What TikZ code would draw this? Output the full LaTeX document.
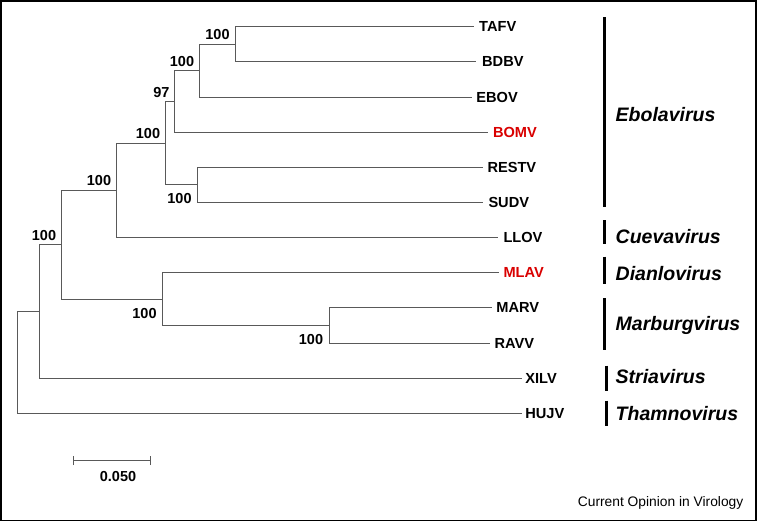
\documentclass[tikz,border=0pt]{standalone}
\usepackage{fontspec}
\setmainfont{Liberation Sans}
\begin{document}
\begin{tikzpicture}[x=1pt,y=-1pt,
  branch/.style={draw=black!65,line width=0.9pt},
  tiplab/.style={anchor=west,inner sep=0pt,font=\fontsize{14.6}{14.6}\selectfont\bfseries},
  redlab/.style={tiplab,text=red!85!black},
  boot/.style={inner sep=0pt,font=\fontsize{14.5}{14.5}\selectfont\bfseries},
  genus/.style={anchor=west,inner sep=0pt,font=\fontsize{19.5}{19.5}\selectfont\bfseries\itshape},
  cladebar/.style={draw=black,line width=3pt}]
\useasboundingbox (0,0) rectangle (758,522);
\draw[line width=1.6pt] (0.8,0.8) rectangle (756,520.5);
% tips (line ends)
\coordinate (tTAFV) at (474,26.7);
\coordinate (tBDBV) at (476,61.85);
\coordinate (tEBOV) at (471.7,97);
\coordinate (tBOMV) at (488.3,132.15);
\coordinate (tRESTV) at (483.3,167.3);
\coordinate (tSUDV) at (483.3,202.45);
\coordinate (tLLOV) at (498.3,237.6);
\coordinate (tMLAV) at (499.3,272.75);
\coordinate (tMARV) at (491.7,307.9);
\coordinate (tRAVV) at (490,343.05);
\coordinate (tXILV) at (521.7,378.2);
\coordinate (tHUJV) at (521.7,413.35);
% internal nodes
\coordinate (nA) at (235.7,44.28);
\coordinate (nB) at (199.3,70.64);
\coordinate (nC) at (174.7,101.4);
\coordinate (nE) at (197.7,184.9);
\coordinate (nD) at (165.7,143.15);
\coordinate (nF) at (116.3,190.4);
\coordinate (nK) at (329.3,325.5);
\coordinate (nJ) at (162.3,299.1);
\coordinate (nG) at (61.7,244.75);
\coordinate (nH) at (39.7,311.5);
\coordinate (nI) at (17.3,362.4);
% branches
\draw[branch] (nA) |- (tTAFV);
\draw[branch] (nA) |- (tBDBV);
\draw[branch] (nB) |- (nA);
\draw[branch] (nB) |- (tEBOV);
\draw[branch] (nC) |- (nB);
\draw[branch] (nC) |- (tBOMV);
\draw[branch] (nE) |- (tRESTV);
\draw[branch] (nE) |- (tSUDV);
\draw[branch] (nD) |- (nC);
\draw[branch] (nD) |- (nE);
\draw[branch] (nF) |- (nD);
\draw[branch] (nF) |- (tLLOV);
\draw[branch] (nK) |- (tMARV);
\draw[branch] (nK) |- (tRAVV);
\draw[branch] (nJ) |- (tMLAV);
\draw[branch] (nJ) |- (nK);
\draw[branch] (nG) |- (nF);
\draw[branch] (nG) |- (nJ);
\draw[branch] (nH) |- (nG);
\draw[branch] (nH) |- (tXILV);
\draw[branch] (nI) |- (nH);
\draw[branch] (nI) |- (tHUJV);
% tip labels
\node[tiplab] (lTAFV) at ([xshift=5pt]tTAFV) {TAFV};
\node[tiplab] (lBDBV) at ([xshift=6pt]tBDBV) {BDBV};
\node[tiplab] (lEBOV) at ([xshift=4.5pt]tEBOV) {EBOV};
\node[redlab] (lBOMV) at ([xshift=4.5pt]tBOMV) {BOMV};
\node[tiplab] (lRESTV) at ([xshift=4pt]tRESTV) {RESTV};
\node[tiplab] (lSUDV) at ([xshift=5pt]tSUDV) {SUDV};
\node[tiplab] (lLLOV) at ([xshift=5pt]tLLOV) {LLOV};
\node[redlab] (lMLAV) at ([xshift=4pt]tMLAV) {MLAV};
\node[tiplab] (lMARV) at ([xshift=4.5pt]tMARV) {MARV};
\node[tiplab] (lRAVV) at ([xshift=4.5pt]tRAVV) {RAVV};
\node[tiplab] (lXILV) at ([xshift=3.5pt]tXILV) {XILV};
\node[tiplab] (lHUJV) at ([xshift=3.5pt]tHUJV) {HUJV};
% bootstrap values
\node[boot] (bA) at (217.5,35) {100};
\node[boot] (bB) at (182,61.7) {100};
\node[boot] (bC) at (161.5,92.7) {97};
\node[boot] (bD) at (148,134) {100};
\node[boot] (bE) at (179.5,199) {100};
\node[boot] (bF) at (99,181) {100};
\node[boot] (bG) at (44,235.7) {100};
\node[boot] (bJ) at (144.5,313.3) {100};
\node[boot] (bK) at (311,339.3) {100};
% clade bars
\coordinate (cE1) at (604.5,17.3); \coordinate (cE2) at (604.5,206.7);
\coordinate (cC1) at (604.5,220); \coordinate (cC2) at (604.5,244);
\coordinate (cD1) at (604.5,256.7); \coordinate (cD2) at (604.5,284);
\coordinate (cM1) at (604.5,298.3); \coordinate (cM2) at (604.5,350);
\coordinate (cS1) at (606.3,365.7); \coordinate (cS2) at (606.3,390.7);
\coordinate (cT1) at (606.3,400.7); \coordinate (cT2) at (606.3,426);
\draw[cladebar] (cE1) -- (cE2);
\draw[cladebar] (cC1) -- (cC2);
\draw[cladebar] (cD1) -- (cD2);
\draw[cladebar] (cM1) -- (cM2);
\draw[cladebar] (cS1) -- (cS2);
\draw[cladebar] (cT1) -- (cT2);
\node[genus] (gEbola) at (615.5,114.3) {Ebolavirus};
\node[genus] (gCueva) at (615.5,236.7) {Cuevavirus};
\node[genus] (gDian) at (615.5,274) {Dianlovirus};
\node[genus] (gMarb) at (615.5,325) {Marburgvirus};
\node[genus] (gStria) at (615.5,376.7) {Striavirus};
\node[genus] (gThamn) at (615.5,413.3) {Thamnovirus};
% scale bar
\coordinate (s1) at (73.3,460.7);
\coordinate (s2) at (150.3,460.7);
\draw[branch] (s1) -- (s2);
\draw[branch] ([yshift=-4.5pt]s1) -- ([yshift=5pt]s1);
\draw[branch] ([yshift=-4.5pt]s2) -- ([yshift=5pt]s2);
\node[boot] (sLab) at (118,476.7) {0.050};
% journal
\node[anchor=east,inner sep=0pt,font=\fontsize{13.8}{13.8}\selectfont] (journal) at (743.5,503.3) {Current Opinion in Virology};
\end{tikzpicture}
\end{document}
